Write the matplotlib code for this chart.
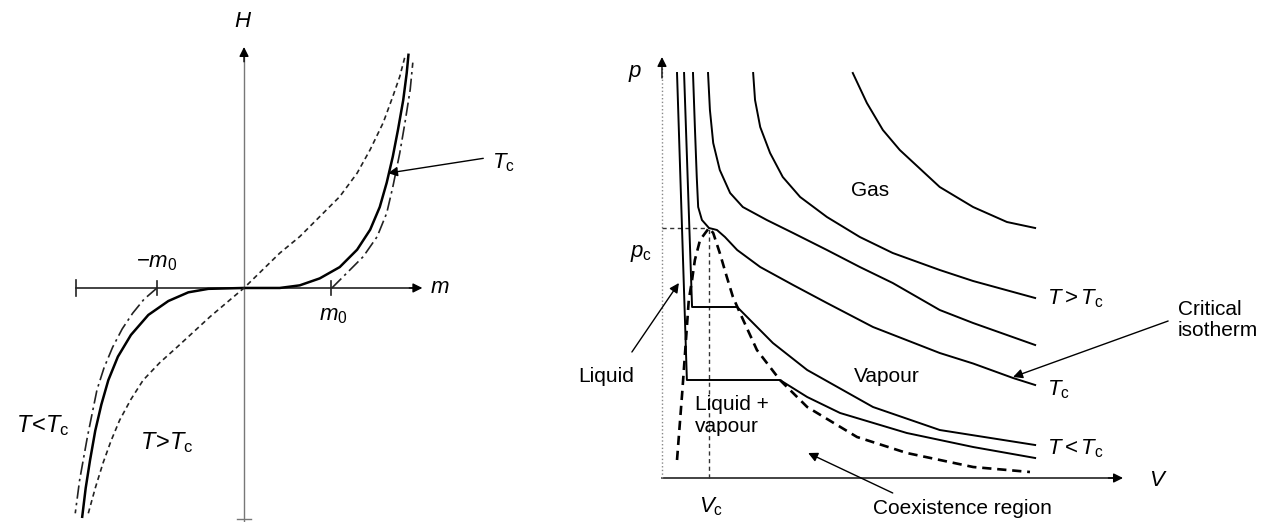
# -*- coding: utf-8 -*-
"""
Two schematic diagrams: H(m) near a magnetic critical point (left) and
p(V) isotherms of a fluid with the coexistence region (right).
"""

import matplotlib.pyplot as plt

plt.rcParams['font.family'] = ['Liberation Sans', 'DejaVu Sans']
plt.rcParams['mathtext.fontset'] = 'custom'
plt.rcParams['mathtext.rm'] = 'Liberation Sans'
plt.rcParams['mathtext.it'] = 'Liberation Sans:italic'

##############################################################################
# Left panel data: m in units of m0, H in the same units.
tc_m = [-1.86, -1.82, -1.77, -1.71, -1.64, -1.56, -1.45, -1.30, -1.10,
        -0.87, -0.64, -0.41, 0.0,
        0.41, 0.64, 0.87, 1.10, 1.30, 1.45, 1.56, 1.64, 1.71, 1.77, 1.83,
        1.87, 1.89]
tc_H = [-2.63, -2.30, -1.98, -1.64, -1.34, -1.06, -0.79, -0.54, -0.31,
        -0.15, -0.05, -0.01, 0.0,
        0.0, 0.03, 0.11, 0.24, 0.44, 0.67, 0.93, 1.21, 1.51, 1.82, 2.16,
        2.47, 2.68]

hot_m = [-1.79, -1.71, -1.62, -1.53, -1.43, -1.30, -1.16, -0.97, -0.77,
         -0.39, 0.0,
         0.41, 0.64, 0.87, 1.10, 1.30, 1.45, 1.60, 1.71, 1.79, 1.85]
hot_H = [-2.59, -2.30, -2.01, -1.76, -1.52, -1.28, -1.06, -0.86, -0.68,
         -0.33, 0.0,
         0.40, 0.59, 0.82, 1.05, 1.32, 1.59, 1.90, 2.20, 2.43, 2.66]

cold_right_m = [1.01, 1.18, 1.37, 1.53, 1.64, 1.71, 1.79, 1.85, 1.91, 1.94]
cold_right_H = [0.0, 0.17, 0.36, 0.59, 0.86, 1.16, 1.55, 1.90, 2.28, 2.59]
cold_left_m = [-1.0, -1.15, -1.28, -1.40, -1.51, -1.61, -1.69, -1.80,
               -1.89, -1.94]
cold_left_H = [0.0, -0.13, -0.29, -0.47, -0.68, -0.92, -1.17, -1.71,
               -2.21, -2.59]

# Right panel data: V in units of Vc, p in units of pc.
iso1_V = [4.06, 4.36, 4.70, 5.06, 5.91, 6.62, 7.34, 7.94]
iso1_p = [1.62, 1.50, 1.392, 1.312, 1.164, 1.084, 1.024, 1.0]

iso2_V = [1.94, 1.98, 2.09, 2.30, 2.57, 2.94, 3.51, 4.21, 4.91, 5.91,
          6.62, 7.94]
iso2_p = [1.62, 1.512, 1.404, 1.30, 1.204, 1.124, 1.044, 0.964, 0.90,
          0.832, 0.788, 0.72]

iso3_V = [0.98, 1.02, 1.09, 1.23, 1.45, 1.72, 2.23, 2.79, 3.51, 4.21,
          4.91, 5.91, 6.62, 7.94]
iso3_p = [1.62, 1.472, 1.34, 1.232, 1.14, 1.084, 1.032, 0.98, 0.912,
          0.844, 0.78, 0.672, 0.62, 0.532]

crit_V = [0.66, 0.70, 0.74, 0.77, 0.85, 1.0, 1.17, 1.34, 1.60, 2.09,
          2.79, 3.51, 4.49, 5.91, 6.62, 7.47, 7.94]
crit_p = [1.62, 1.404, 1.204, 1.084, 1.032, 1.0, 0.992, 0.964, 0.912,
          0.844, 0.772, 0.700, 0.604, 0.5, 0.458, 0.4, 0.372]

sub1_V = [0.47, 0.64, 1.60, 2.36, 3.09, 4.49, 5.91, 7.94]
sub1_p = [1.62, 0.684, 0.684, 0.54, 0.432, 0.284, 0.192, 0.132]

sub2_V = [0.32, 0.53, 2.51, 3.09, 3.79, 5.21, 6.62, 7.94]
sub2_p = [1.62, 0.392, 0.392, 0.324, 0.26, 0.18, 0.124, 0.08]

coex_V = [0.32, 0.43, 0.53, 0.57, 0.64, 0.70, 0.81, 1.0, 1.09, 1.23,
          1.38, 1.51, 1.66, 2.02, 2.51, 3.09, 4.15, 5.21, 6.62, 7.83]
coex_p = [0.072, 0.34, 0.604, 0.712, 0.792, 0.872, 0.952, 1.0, 0.98,
          0.90, 0.804, 0.724, 0.66, 0.512, 0.392, 0.284, 0.164, 0.10,
          0.044, 0.024]

##############################################################################
fig = plt.figure(figsize=(12.64, 5.22), dpi=100)
axL = fig.add_axes([0, 0, 560 / 1264, 1])
axR = fig.add_axes([560 / 1264, 0, 704 / 1264, 1])
for ax in (axL, axR):
    ax.set_axis_off()

fs = 15
fm = 16  # math labels
arrow_kw = dict(arrowstyle='-|>', color='k', lw=1.0, mutation_scale=14,
                shrinkA=0, shrinkB=0)

# ---- Left panel -----------------------------------------------------------
axL.set_xlim(-2.805, 3.632)
axL.set_ylim(-2.690, 3.310)

# axes
axL.plot([-1.93, 2.0], [0, 0], color='#222222', lw=1.2)
axL.annotate('', xy=(2.05, 0), xytext=(1.9, 0), arrowprops=arrow_kw)
axL.plot([0, 0], [-2.69, 2.7], color='#777777', lw=1.0)
axL.annotate('', xy=(0, 2.77), xytext=(0, 2.6), arrowprops=arrow_kw)
axL.plot([-1.93, -1.93], [-0.09, 0.09], color='#222222', lw=1.2)
for t in (-1.0, 1.0):
    axL.plot([t, t], [-0.08, 0.08], color='#222222', lw=1.2)
axL.plot([-0.08, 0.08], [-2.66, -2.66], color='#777777', lw=1.0)

# curves
axL.plot(tc_m, tc_H, color='k', lw=1.8)
axL.plot(hot_m, hot_H, color='#222222', lw=1.2, dashes=(3, 2.2))
axL.plot(cold_right_m, cold_right_H, color='#222222', lw=1.2,
         dashes=(8, 2.5, 1.5, 2.5))
axL.plot(cold_left_m, cold_left_H, color='#222222', lw=1.2,
         dashes=(8, 2.5, 1.5, 2.5))

# labels
axL.text(-0.01, 3.06, r'$H$', fontsize=fm, ha='center', va='center')
axL.text(2.25, 0.0, r'$m$', fontsize=fm, ha='center', va='center')
axL.text(-1.0, 0.29, r'$-m_0$', fontsize=fm, ha='center', va='center')
axL.text(1.03, -0.32, r'$m_0$', fontsize=fm, ha='center', va='center')
axL.text(2.85, 1.44, r'$T_{\mathrm{c}}$', fontsize=fm, ha='left', va='center')
axL.annotate('', xy=(1.655, 1.32), xytext=(2.75, 1.49), arrowprops=arrow_kw)
axL.text(-2.31, -1.58, r'$T\!<\!T_{\mathrm{c}}$', fontsize=fm + 1,
         ha='center', va='center')
axL.text(-0.885, -1.78, r'$T\!>\!T_{\mathrm{c}}$', fontsize=fm + 1,
         ha='center', va='center')

# ---- Right panel ----------------------------------------------------------
axR.set_xlim(-2.170, 12.81)
axR.set_ylim(-0.176, 1.912)

# axes
axR.plot([0, 9.7], [0, 0], color='#222222', lw=1.2)
axR.annotate('', xy=(9.81, 0), xytext=(9.5, 0), arrowprops=arrow_kw)
axR.plot([0, 0], [0, 1.64], color='#888888', lw=1.0, ls=':')
axR.annotate('', xy=(0, 1.684), xytext=(0, 1.60), arrowprops=arrow_kw)

# critical point guides
axR.plot([0, 1.0], [1.0, 1.0], color='#333333', lw=1.0, dashes=(3, 2.5))
axR.plot([1.0, 1.0], [0, 1.0], color='#333333', lw=1.0, dashes=(3, 2.5))

# isotherms
for V, p in [(iso1_V, iso1_p), (iso2_V, iso2_p), (iso3_V, iso3_p),
             (crit_V, crit_p), (sub1_V, sub1_p), (sub2_V, sub2_p)]:
    axR.plot(V, p, color='k', lw=1.4)

# coexistence boundary
axR.plot(coex_V, coex_p, color='k', lw=1.9, dashes=(3.5, 2.2))

# labels
axR.text(-0.57, 1.62, r'$p$', fontsize=fm, ha='center', va='center')
axR.text(-0.45, 0.90, r'$p_{\mathrm{c}}$', fontsize=fm, ha='center',
         va='center')
axR.text(1.04, -0.116, r'$V_{\mathrm{c}}$', fontsize=fm, ha='center',
         va='center')
axR.text(10.55, -0.012, r'$V$', fontsize=fm, ha='center', va='center')
axR.text(4.43, 1.148, 'Gas', fontsize=fs, ha='center', va='center')
axR.text(4.79, 0.404, 'Vapour', fontsize=fs, ha='center', va='center')
axR.text(8.19, 0.716, r'$T > T_{\mathrm{c}}$', fontsize=fm, ha='left',
         va='center')
axR.text(8.19, 0.352, r'$T_{\mathrm{c}}$', fontsize=fm, ha='left',
         va='center')
axR.text(8.19, 0.118, r'$T < T_{\mathrm{c}}$', fontsize=fm, ha='left',
         va='center')
axR.text(10.98, 0.632, 'Critical\nisotherm', fontsize=fs, ha='left',
         va='center', linespacing=1.1)
axR.annotate('', xy=(7.47, 0.404), xytext=(10.77, 0.628), arrowprops=arrow_kw)
axR.text(-1.19, 0.408, 'Liquid', fontsize=fs, ha='center', va='center')
axR.annotate('', xy=(0.36, 0.78), xytext=(-0.64, 0.504), arrowprops=arrow_kw)
axR.text(0.70, 0.25, 'Liquid +\nvapour', fontsize=fs, ha='left',
         va='center', linespacing=1.15)
axR.text(6.40, -0.12, 'Coexistence region', fontsize=fs, ha='center',
         va='center')
axR.annotate('', xy=(3.11, 0.10), xytext=(4.91, -0.06), arrowprops=arrow_kw)

fig.savefig('out.png', dpi=100)
plt.close(fig)
